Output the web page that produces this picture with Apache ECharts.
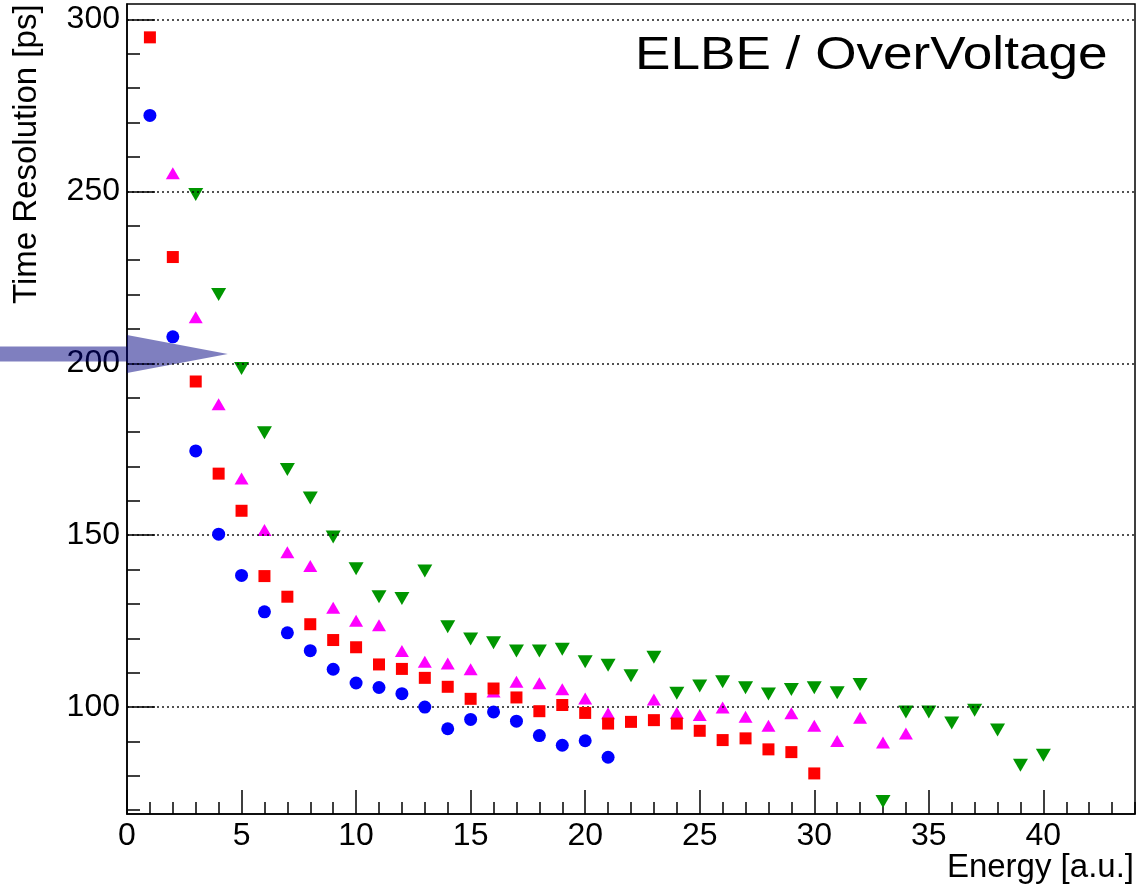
<!DOCTYPE html>
<html>
<head>
<meta charset="utf-8">
<script src="https://cdn.jsdelivr.net/npm/echarts@6/dist/echarts.min.js"></script>
<style>html,body{margin:0;padding:0;background:#fff;}#c{width:1138px;height:894px;}</style>
</head>
<body>
<div id="c"></div>
<script>
// ---- data ----
const blueX = [1,2,3,4,5,6,7,8,9,10,11,12,13,14,15,16,17,18,19,20,21];
const blueY = [272.1,207.7,174.5,150.3,138.3,127.7,121.6,116.4,111.0,107.0,105.7,103.9,100.0,93.7,96.4,98.6,95.9,91.7,88.9,90.2,85.4];

const redX = [1,2,3,4,5,6,7,8,9,10,11,12,13,14,15,16,17,18,19,20,21,22,23,24,25,26,27,28,29,30];
const redY = [294.8,230.9,194.7,167.9,157.1,138.1,132.1,124.1,119.5,117.4,112.4,111.1,108.5,105.9,102.4,105.4,102.8,98.8,100.6,98.3,95.2,95.7,96.2,95.2,93.1,90.4,90.9,87.7,86.9,80.7];

const magentaX = [2,3,4,5,6,7,8,9,10,11,12,13,14,15,16,17,18,19,20,21,23,24,25,26,27,28,29,30,31,32,33,34];
const magentaY = [255.3,213.4,188.1,166.5,151.5,145.0,141.0,128.9,125.1,123.8,116.3,113.2,112.7,111.0,104.5,107.4,106.9,105.2,102.5,98.2,102.2,98.3,97.7,99.9,97.2,94.6,98.2,94.6,90.1,96.9,89.7,92.3];

const greenX = [3,4,5,6,7,8,9,10,11,12,13,14,15,16,17,18,19,20,21,22,23,24,25,26,27,28,29,30,31,32,33,34,35,36,37,38,39,40];
const greenY = [249.1,220.0,198.5,179.8,169.1,160.8,149.5,140.2,132.1,131.6,139.6,123.4,119.8,118.7,116.3,116.3,116.8,113.2,112.2,109.1,114.5,104.0,106.1,107.4,105.6,103.8,105.1,105.6,104.2,106.6,72.5,98.6,98.6,95.4,99.1,93.3,83.1,86.0];

const xMajorTicks = [0,5,10,15,20,25,30,35,40];
const xMinorTicks = [0,1,2,3,4,5,6,7,8,9,10,11,12,13,14,15,16,17,18,19,20,21,22,23,24,25,26,27,28,29,30,31,32,33,34,35,36,37,38,39,40,41,42,43,44];
const yMajorTicks = [100,150,200,250,300];
const yMinorTicks = [70,80,90,100,110,120,130,140,150,160,170,180,190,200,210,220,230,240,250,260,270,280,290,300];

const titleText = 'ELBE / OverVoltage';
const xTitle = 'Energy [a.u.]';
const yTitle = 'Time Resolution [ps]';
const arrowValueY = 202.7;
const arrowTipX = 4.4;

const X_MIN = 0, X_MAX = 44, Y_MIN = 68.9, Y_MAX = 304.5;

function pairs(xs, ys){ return xs.map((x,i)=>[x, ys[i]]); }

const FONT = '"Liberation Sans", Arial, Helvetica, sans-serif';
const chart = echarts.init(document.getElementById('c'), null, {renderer:'canvas'});

const axisLineStyle = {color:'#000', width:1.5};

const option = {
  backgroundColor:'#fff',
  animation:false,
  grid:{left:127, right:3, top:4, bottom:80, show:true, borderColor:'#000', borderWidth:1.5, backgroundColor:'transparent'},
  xAxis:[
    {type:'value', min:X_MIN, max:X_MAX, position:'bottom',
     axisLine:{show:true, lineStyle:axisLineStyle},
     axisTick:{show:true, inside:true, length:24, lineStyle:{color:'#000', width:1.5}, customValues:xMajorTicks},
     axisLabel:{show:true, customValues:xMajorTicks, color:'#000', fontSize:32, fontFamily:FONT, margin:6},
     splitLine:{show:false}},
    {type:'value', min:X_MIN, max:X_MAX, position:'bottom',
     axisLine:{show:false},
     axisTick:{show:true, inside:true, length:12, lineStyle:{color:'#000', width:1.5}, customValues:xMinorTicks},
     axisLabel:{show:false}, splitLine:{show:false}}
  ],
  yAxis:[
    {type:'value', min:Y_MIN, max:Y_MAX, position:'left',
     axisLine:{show:true, lineStyle:axisLineStyle},
     axisTick:{show:true, inside:true, length:28, lineStyle:{color:'#000', width:1.5}, customValues:yMajorTicks},
     axisLabel:{show:true, customValues:yMajorTicks, color:'#000', fontSize:32, fontFamily:FONT, margin:7},
     splitLine:{show:false}},
    {type:'value', min:Y_MIN, max:Y_MAX, position:'left',
     axisLine:{show:false},
     axisTick:{show:true, inside:true, length:13, lineStyle:{color:'#000', width:1.5}, customValues:yMinorTicks},
     axisLabel:{show:false}, splitLine:{show:false}}
  ],
  series:[
    {type:'scatter', name:'green', xAxisIndex:0, yAxisIndex:0, data:pairs(greenX, greenY),
     symbol:'triangle', symbolRotate:180, symbolSize:[15,13], itemStyle:{color:'#009600', opacity:1}, z:3,
     markLine:{silent:true, symbol:['none','none'], label:{show:false},
       lineStyle:{color:'#000', width:1.6, type:[2,3], opacity:0.9},
       data: yMajorTicks.map(v=>({yAxis:v}))}},
    {type:'scatter', name:'magenta', xAxisIndex:0, yAxisIndex:0, data:pairs(magentaX, magentaY),
     symbol:'triangle', symbolSize:[14,12], itemStyle:{color:'#ff00ff', opacity:1}, z:4},
    {type:'scatter', name:'red', xAxisIndex:0, yAxisIndex:0, data:pairs(redX, redY),
     symbol:'rect', symbolSize:12, itemStyle:{color:'#ff0000', opacity:1}, z:5},
    {type:'scatter', name:'blue', xAxisIndex:0, yAxisIndex:0, data:pairs(blueX, blueY),
     symbol:'circle', symbolSize:13, itemStyle:{color:'#0000ff', opacity:1}, z:6}
  ]
};
chart.setOption(option);

// annotations
const pTip = chart.convertToPixel({xAxisIndex:0, yAxisIndex:0}, [arrowTipX, arrowValueY]);
const pAxis = chart.convertToPixel({xAxisIndex:0, yAxisIndex:0}, [X_MIN, arrowValueY]);
const cy = pTip[1];
chart.setOption({
  graphic:[
    {type:'polygon', z:1, silent:true,
     shape:{points:[[0,cy-7.5],[pAxis[0],cy-7.5],[pAxis[0],cy-19],[pTip[0],cy],[pAxis[0],cy+19],[pAxis[0],cy+7.5],[0,cy+7.5]]},
     style:{fill:'rgba(0,0,128,0.5)'}},
    {type:'text', x:635, y:33, scaleX:1.155, z:10,
     style:{text:titleText, font:'46px ' + FONT, fill:'#000', align:'left', verticalAlign:'top'}},
    {type:'text', x:1134, y:851, z:10,
     style:{text:xTitle, font:'33px ' + FONT, fill:'#000', align:'right', verticalAlign:'top'}},
    {type:'text', x:10, y:304, rotation:Math.PI/2, z:10,
     style:{text:yTitle, font:'33px ' + FONT, fill:'#000', align:'left', verticalAlign:'top'}}
  ]
});
</script>
</body>
</html>
